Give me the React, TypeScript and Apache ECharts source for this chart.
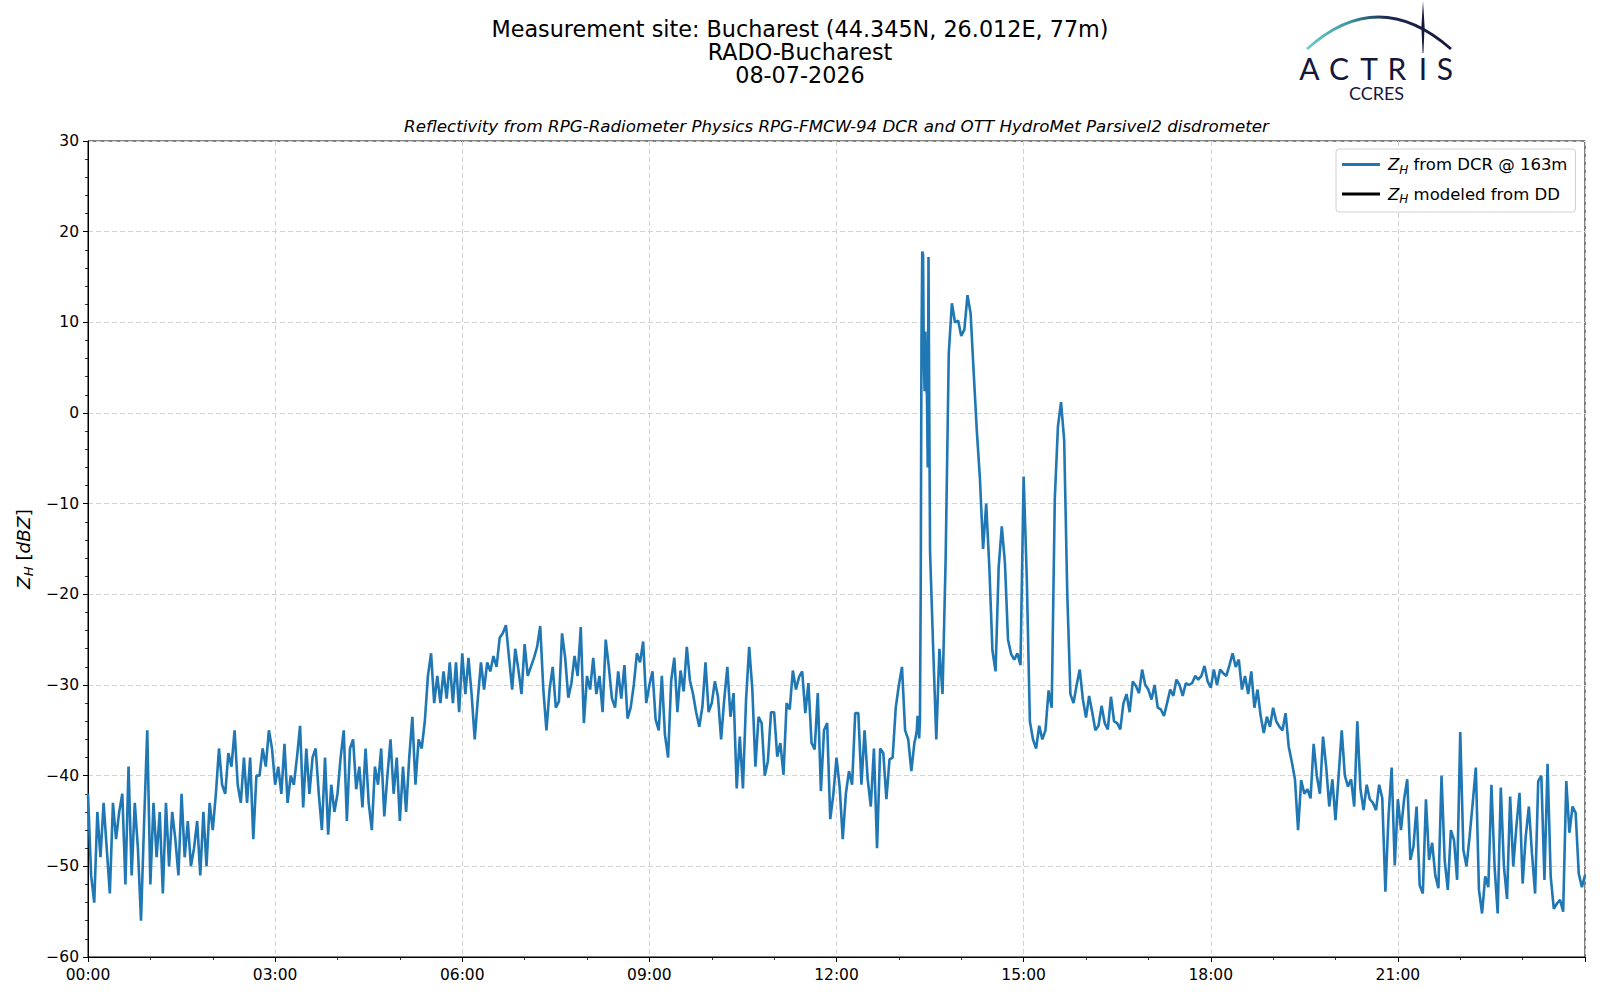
import React, { useEffect, useRef } from "react";
import * as echarts from "echarts";

// Reflectivity Z_H from DCR @ 163m, dBZ. Hours 0..12 sampled every 0.05 h (3 min)
const h00 = [-42, -51, -54, -44, -49, -43, -48, -53, -43, -47, -44, -42, -52, -39, -51, -43, -48, -56, -45, -35];
const h01 = [-52, -43, -49, -44, -53, -43, -50, -44, -47, -51, -42, -49, -45, -50, -48, -45, -51, -44, -50, -43];
const h02 = [-46, -42, -37, -41, -42, -37.5, -39, -35, -41, -43, -38, -43, -38, -47, -40, -40, -37, -39, -35, -37];
const h03 = [-41, -39, -42, -36.5, -43, -40, -41, -38, -34.5, -43.5, -37, -42, -38, -37, -42, -46, -38, -46.5, -41, -44];
const h04 = [-42, -38, -35, -45, -37, -36, -41.5, -39, -43.5, -37, -43, -46, -39, -41, -37, -44.5, -40, -36, -42, -38];
const h05 = [-45, -39, -44, -38, -33.5, -41, -36, -37, -34, -29, -26.5, -32, -29, -32, -28.5, -31.5, -27.5, -32, -27.5, -33];
const h06 = [-26.5, -31, -27, -31, -36, -31.5, -27.5, -30.5, -27.5, -28.5, -26.8, -28, -24.8, -24.3, -23.4, -27, -30.5, -26, -28.3, -31];
const h07 = [-25.5, -29, -28, -27, -25.8, -23.5, -30.5, -35, -30.5, -28, -32.5, -31.8, -24.3, -27, -31.4, -29.8, -26.8, -29, -23.6, -34.2];
const h08 = [-29, -30.5, -27, -31, -29, -33, -25, -28, -31.5, -32.5, -28.5, -31.5, -27.8, -33.7, -32.5, -30, -26.5, -27.5, -25.2, -32];
const h09 = [-30, -28.5, -33.8, -35, -29, -35.5, -38, -29.5, -27, -33, -28.4, -30.7, -25.8, -29.5, -31, -33, -34.6, -32.4, -27.5, -33];
const h10 = [-32, -29.6, -31.3, -36, -31.6, -28, -33.5, -30.9, -41.4, -35.7, -41.4, -31.6, -25.8, -30.4, -39, -33.5, -34.2, -40, -38.4, -33];
const h11 = [-33, -37.9, -36.4, -39.9, -32, -32.7, -28.4, -30.5, -29.1, -28.5, -33.1, -29.8, -36.4, -37.1, -30.9, -41.7, -35, -34.2, -44.8, -42];
const h12 = [-38, -41.2, -47, -42, -39.5, -41, -33.1, -33.1, -41, -35, -40.4, -43.4, -37, -48, -37, -37.5, -42.6, -38.2, -38, -32.5];
// 13.00 - 13.20, every 0.05 h
const h13a = [-30, -28, -35, -36, -39.5];
// 13.25 - 13.4875, every 0.0125 h (finer, first echo)
const h13b = [-36.3, -36, -35.5, -35, -33.4, -34.5, -35.9, -34, -20, 8, 17.8, 17.5, 6, 2.4, 9, 3, 2, -6, 17.2, 0];
// 13.50 - 13.95, then hours 14..23 every 0.05 h, then 24.00
const h13c = [-15.3, -26, -36, -26, -31, -16, 6.6, 12.1, 10, 10.2];
const h14 = [8.5, 9.2, 13, 11, 4.4, -2, -7.3, -15, -10, -17, -26.2, -28.5, -17, -12.5, -16.5, -25, -26.6, -27.2, -26.5, -27.8];
const h15 = [-7, -18, -34, -36, -37, -34.5, -36, -35, -30.6, -32.5, -9.4, -1.5, 1.2, -3, -20, -31, -32, -30, -28.3, -31.6];
const h16 = [-33.6, -31.2, -33, -35, -34.5, -32.3, -34.2, -34.9, -31.3, -34, -34.2, -34.9, -32, -31, -33, -29.6, -30.1, -30.9, -28.3, -30];
const h17 = [-30.5, -31.6, -30, -32.5, -32.7, -33.4, -32, -30.5, -31.2, -29.4, -30, -31.2, -29.8, -30, -29.8, -29, -29.4, -29, -27.9, -29.6];
const h18 = [-30.3, -28.3, -30, -28.3, -28.7, -29, -27.8, -26.5, -28, -27.2, -30.5, -29, -31, -28.5, -32.5, -30.5, -33.4, -35.3, -33.5, -34.6];
const h19 = [-32.5, -34, -34.6, -35, -33.1, -36.8, -38.5, -40.4, -46, -40.5, -42, -41.5, -42.5, -36.5, -40, -42, -35.7, -39, -43.4, -40.4];
const h20 = [-44.9, -40, -35, -40, -41.2, -40.4, -43.4, -34, -41.5, -43.8, -41, -42.6, -43, -43.8, -41, -42.5, -52.8, -44.5, -39.1, -49.9];
const h21 = [-42.6, -46, -42.6, -40.4, -49.3, -47.8, -43.4, -52.1, -53, -42.6, -49.3, -47.4, -51, -52.4, -40, -49.3, -52.6, -46, -47.1, -51.5];
const h22 = [-35.2, -48.2, -50, -46.7, -43, -39.1, -52.6, -55.2, -51.1, -52.3, -41, -50, -55.2, -41.3, -50, -53.6, -42.3, -50, -45.6, -41.9];
const h23 = [-51.9, -46.7, -43.4, -48.6, -53, -40.6, -40, -51.5, -38.7, -51.1, -54.7, -54.1, -53.7, -55, -40.6, -46.3, -43.4, -44.1, -50.8, -52.3];
const hEnd = [-51];

const xTickHours = [0, 3, 6, 9, 12, 15, 18, 21];

function seg(start: number, step: number, vals: number[]) {
  return vals.map((v, i) => [Math.round((start + i * step) * 100000) / 100000, v]);
}

const dcrData = [
  ...seg(0, 0.05, [...h00, ...h01, ...h02, ...h03, ...h04, ...h05, ...h06, ...h07, ...h08, ...h09, ...h10, ...h11, ...h12, ...h13a]),
  ...seg(13.25, 0.0125, h13b),
  ...seg(13.5, 0.05, [...h13c, ...h14, ...h15, ...h16, ...h17, ...h18, ...h19, ...h20, ...h21, ...h22, ...h23, ...hEnd]),
];

const FONT = "DejaVu Sans";
const NAVY = "#15173b";

export default function App() {
  const ref = useRef<HTMLDivElement>(null);
  useEffect(() => {
    if (!ref.current) return;
    const chart = echarts.init(ref.current, undefined, { renderer: "svg" });
    const subRich = {
      z: { fontStyle: "italic", fontSize: 16.5, fontFamily: FONT, lineHeight: 22, verticalAlign: "middle", color: "#000", padding: [0, 0, 0, 3] },
      h: { fontStyle: "italic", fontSize: 12, fontFamily: FONT, lineHeight: 12, verticalAlign: "bottom", color: "#000" },
      t: { fontSize: 16.5, fontFamily: FONT, lineHeight: 22, verticalAlign: "middle", color: "#000" },
    };
    chart.setOption({
      animation: false,
      backgroundColor: "#ffffff",
      grid: { left: 88, right: 15, top: 141, bottom: 43, show: true, borderColor: "#000", borderWidth: 1, backgroundColor: "transparent" },
      xAxis: {
        type: "value",
        min: 0,
        max: 24,
        interval: 3,
        axisLine: { show: true, onZero: false, lineStyle: { color: "#000", width: 1 } },
        axisTick: { show: true, length: 5, lineStyle: { color: "#000", width: 1 } },
        minorTick: { show: true, splitNumber: 3, length: 3, lineStyle: { color: "#000", width: 0.8 } },
        splitLine: { show: true, lineStyle: { color: "#d3d3d3", width: 1, type: [5, 3] } },
        axisLabel: {
          color: "#000",
          fontSize: 15.5,
          fontFamily: FONT,
          margin: 10,
          formatter: (v: number) => {
            if (!xTickHours.includes(v)) return "";
            const hh = String(v).padStart(2, "0");
            return hh + ":00";
          },
        },
      },
      yAxis: {
        type: "value",
        min: -60,
        max: 30,
        interval: 10,
        axisLine: { show: true, onZero: false, lineStyle: { color: "#000", width: 1 } },
        axisTick: { show: true, length: 5, lineStyle: { color: "#000", width: 1 } },
        minorTick: { show: true, splitNumber: 5, length: 3, lineStyle: { color: "#000", width: 0.8 } },
        splitLine: { show: true, lineStyle: { color: "#d3d3d3", width: 1, type: [5, 3] } },
        axisLabel: {
          color: "#000",
          fontSize: 15.5,
          fontFamily: FONT,
          margin: 9,
          formatter: (v: number) => (v < 0 ? "\u2212" + Math.abs(v) : String(v)),
        },
      },
      legend: {
        orient: "vertical",
        left: 1336,
        top: 149,
        padding: [7, 8, 7, 6],
        itemGap: 10,
        itemWidth: 38,
        itemHeight: 3,
        icon: "rect",
        selectedMode: false,
        borderColor: "#d0d0d0",
        borderWidth: 1,
        borderRadius: 3,
        backgroundColor: "rgba(255,255,255,0.8)",
        data: ["dcr", "dd"],
        formatter: (name: string) =>
          name === "dcr" ? "{z|Z}{h|H}{t| from DCR @ 163m}" : "{z|Z}{h|H}{t| modeled from DD}",
        textStyle: { fontFamily: FONT, fontSize: 16.5, color: "#000", rich: subRich },
      },
      graphic: [
        { type: "text", x: 800, y: 28.5, style: { text: "Measurement site: Bucharest (44.345N, 26.012E, 77m)", fontSize: 22.3, fontFamily: FONT, fill: "#000", align: "center", verticalAlign: "middle" } },
        { type: "text", x: 800, y: 51.5, style: { text: "RADO-Bucharest", fontSize: 22.3, fontFamily: FONT, fill: "#000", align: "center", verticalAlign: "middle" } },
        { type: "text", x: 800, y: 74.5, style: { text: "08-07-2026", fontSize: 22.3, fontFamily: FONT, fill: "#000", align: "center", verticalAlign: "middle" } },
        {
          type: "text",
          x: 836.5,
          y: 126,
          style: {
            text: "Reflectivity from RPG-Radiometer Physics RPG-FMCW-94 DCR and OTT HydroMet Parsivel2 disdrometer",
            fontSize: 16.7,
            fontStyle: "italic",
            fontFamily: FONT,
            fill: "#000",
            align: "center",
            verticalAlign: "middle",
          },
        },
        {
          type: "text",
          x: 23,
          y: 549,
          rotation: Math.PI / 2,
          style: {
            text: "{z|Z}{h|H}{t| [}{z|dBZ}{t|]}",
            align: "center",
            verticalAlign: "middle",
            fill: "#000",
            rich: {
              z: { fontStyle: "italic", fontSize: 18.5, fontFamily: FONT, lineHeight: 24, verticalAlign: "middle", fill: "#000" },
              h: { fontStyle: "italic", fontSize: 13, fontFamily: FONT, lineHeight: 13, verticalAlign: "bottom", fill: "#000" },
              t: { fontSize: 18.5, fontFamily: FONT, lineHeight: 24, verticalAlign: "middle", fill: "#000" },
            },
          },
        },
        // ACTRIS logo
        {
          type: "bezierCurve",
          shape: { x1: 1307, y1: 49, x2: 1451, y2: 49, cpx1: 1378, cpy1: -15 },
          style: {
            fill: "none",
            lineWidth: 2.8,
            stroke: new echarts.graphic.LinearGradient(0, 0, 1, 0, [
              { offset: 0, color: "#74cbc4" },
              { offset: 0.3, color: "#3a95a0" },
              { offset: 0.55, color: "#1c2a52" },
              { offset: 1, color: NAVY },
            ]),
          },
        },
        {
          type: "polygon",
          shape: { points: [[1423, 1], [1424.6, 27], [1423.4, 53], [1422.6, 53], [1421.4, 27]] },
          style: { fill: NAVY },
        },
        ...[["A", 1309.5], ["C", 1339], ["T", 1369], ["R", 1397], ["I", 1423], ["S", 1445]].map(([ch, x]) => ({
          type: "text",
          x: x as number,
          y: 67.5,
          style: { text: ch as string, fontSize: 30, lineHeight: 24, fontFamily: "Lato", fill: NAVY, align: "center", verticalAlign: "middle" },
        })),
        { type: "text", x: 1376.5, y: 93, style: { text: "CCRES", fontSize: 18, lineHeight: 16, fontFamily: "Lato", fill: NAVY, align: "center", verticalAlign: "middle" } },
      ],
      series: [
        {
          name: "dcr",
          type: "line",
          data: dcrData,
          color: "#1f77b4",
          symbol: "none",
          showSymbol: false,
          lineStyle: { color: "#1f77b4", width: 2.6 },
          clip: true,
          z: 3,
        },
        {
          name: "dd",
          type: "line",
          data: [],
          color: "#000000",
          symbol: "none",
          lineStyle: { color: "#000000", width: 2 },
        },
      ],
    });
    return () => chart.dispose();
  }, []);
  return (
    <div
      ref={ref}
      style={{ position: "fixed", left: 0, top: 0, width: 1600, height: 1000, background: "#fff" }}
    />
  );
}
